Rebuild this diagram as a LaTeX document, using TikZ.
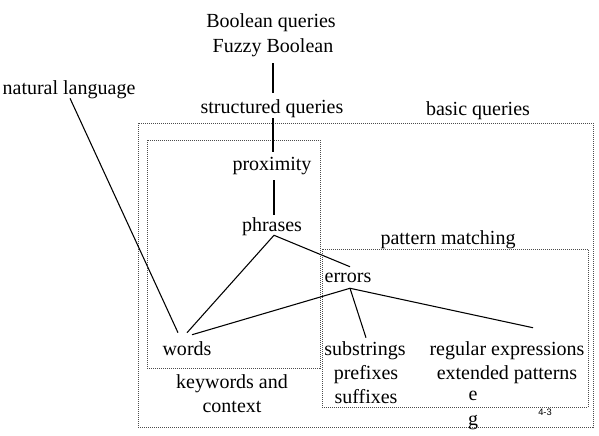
\documentclass[tikz,border=0pt]{standalone}
\usepackage{fontspec}
\setmainfont{Liberation Serif}
\newfontfamily\smallsans{Liberation Sans}
\usetikzlibrary{calc}
\tikzset{
  lbl/.style={inner sep=1pt, text height=12pt, text depth=1pt,
    font=\fontsize{15}{18.5}\selectfont},
  conn/.style={draw=black, line width=0.8pt},
  dotbox/.style={draw=black!70, line width=0.7pt, dash pattern=on 0.75pt off 0.75pt}
}
\begin{document}
\begin{tikzpicture}[x=0.75pt,y=-0.75pt]
\useasboundingbox (0,0) rectangle (599,435);
% boxes
\draw[dotbox] (138,123) rectangle (593,427);
\draw[dotbox] (147,140) rectangle (320,368);
\draw[dotbox] (322,249) rectangle (588,407);
% nodes
\node[lbl] (bq1) at (271,20) {Boolean queries};
\node[lbl] (bq2) at (273,45) {Fuzzy Boolean};
\node[lbl] (sq) at (272,106) {structured queries};
\node[lbl] (nl) at (69,87) {natural language};
\node[lbl] (basic) at (478,108) {basic queries};
\node[lbl] (prox) at (272,163) {proximity};
\node[lbl] (phr) at (272,224) {phrases};
\node[lbl] (pm) at (448,237) {pattern matching};
\node[lbl] (err) at (348,275) {errors};
\node[lbl] (words) at (187,348) {words};
\node[lbl] (kw1) at (232,381) {keywords and};
\node[lbl] (kw2) at (232,405) {context};
\node[lbl] (subs1) at (365,348) {substrings};
\node[lbl] (subs2) at (366,372) {prefixes};
\node[lbl] (subs3) at (366,396) {suffixes};
\node[lbl] (regex1) at (507,348) {regular expressions};
\node[lbl] (regex2) at (507,372) {extended patterns};
\node[lbl] (e) at (473,393) {e};
\node[lbl] (g) at (473,418) {g};
\node[inner sep=0pt, font=\smallsans\fontsize{7}{8}\selectfont] (pg) at (545,412) {4-3};
% connectors
\draw[conn] ($(bq2.south)+(0,8)$) -- ($(sq.north)+(1,-3)$);
\draw[conn] ($(sq.south)+(1,2)$) -- ($(prox.north)+(1,-1)$);
\draw[conn] ($(prox.south)+(2,7)$) -- ($(phr.north)+(2,1)$);
\draw[conn] ($(nl.south)+(1,1)$) -- ($(words.north)+(-9,-5)$);
\draw[conn] ($(words.north)+(0,-5)$) -- ($(phr.south)+(2,1)$) -- ($(err.north)+(2,2)$);
\draw[conn] ($(words.north)+(5,-3)$) -- ($(err.south)+(2,3)$) -- ($(regex1.north)+(26,-10)$);
\draw[conn] ($(err.south)+(2,3)$) -- ($(subs1.north)+(1,0)$);
\end{tikzpicture}
\end{document}
